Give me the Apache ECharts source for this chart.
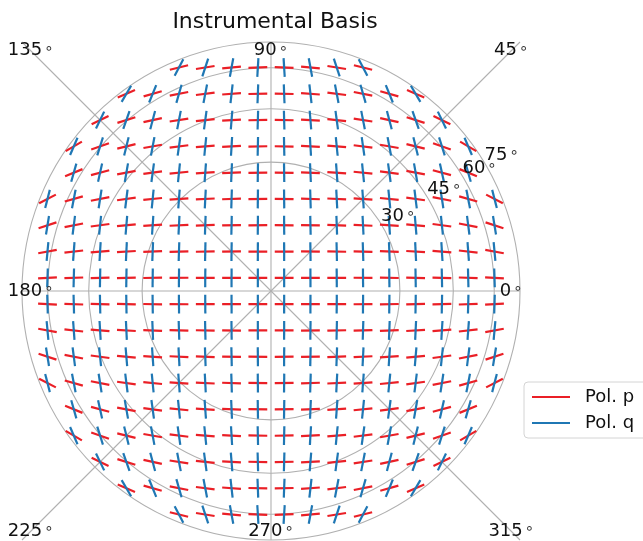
<!DOCTYPE html>
<html>
<head>
<meta charset="utf-8">
<script src="https://cdn.jsdelivr.net/npm/echarts/dist/echarts.min.js"></script>
<style>
html,body{margin:0;padding:0;background:#fff;}
#chart{width:643px;height:541px;}
</style>
</head>
<body>
<div id="chart"></div>
<script>
// ---------------- data ----------------
const titleText = 'Instrumental Basis';
const seriesNames = ['Pol. p', 'Pol. q'];
// |l| and |m| (direction cosines) of the grid columns / rows, from the centre outward
const colPos = [0.051, 0.153, 0.255, 0.357, 0.459, 0.561, 0.663, 0.765, 0.867];
const rowPos = [0.051, 0.153, 0.255, 0.357, 0.459, 0.561, 0.663, 0.765, 0.867];
// tilt (deg) of the Pol. p bar from horizontal, quadrant table [row][col]
const pTilt = [
  [0.1, 0.2, 0.4, 0.6, 0.8, 1.1, 1.5, 2.1, 3.4],
  [0.2, 0.7, 1.2, 1.7, 2.4, 3.3, 4.5, 6.4, 10.4],
  [0.4, 1.2, 2.0, 2.9, 4.1, 5.6, 7.6, 11.0, 18.1],
  [0.5, 1.7, 2.8, 4.2, 5.8, 8.0, 11.0, 16.0, 27.4],
  [0.7, 2.2, 3.8, 5.6, 7.7, 10.6, 14.8, 22.1],
  [0.9, 2.7, 4.8, 7.1, 9.9, 13.7, 19.4, 30.4],
  [1.1, 3.4, 5.9, 8.8, 12.4, 17.5, 25.8],
  [1.4, 4.2, 7.3, 11.0, 15.8, 23.2],
  [1.7, 5.2, 9.2, 14.2]
];
// tilt (deg) of the Pol. q bar from vertical, quadrant table [row][col]
const qTilt = [
  [0.1, 0.2, 0.4, 0.5, 0.7, 0.9, 1.1, 1.4, 1.7],
  [0.2, 0.7, 1.2, 1.7, 2.2, 2.7, 3.4, 4.2, 5.2],
  [0.4, 1.2, 2.0, 2.8, 3.8, 4.8, 5.9, 7.3, 9.2],
  [0.6, 1.7, 2.9, 4.2, 5.6, 7.1, 8.8, 11.0, 14.2],
  [0.8, 2.4, 4.1, 5.8, 7.7, 9.9, 12.4, 15.8],
  [1.1, 3.3, 5.6, 8.0, 10.6, 13.7, 17.5, 23.2],
  [1.5, 4.5, 7.6, 11.0, 14.8, 19.4, 25.8],
  [2.1, 6.4, 11.0, 16.0, 22.1, 30.4],
  [3.4, 10.4, 18.1, 27.4]
];
const ringDeg = [30, 45, 60, 75];          // zenith-angle circles
const spokeDeg = [0, 45, 90, 135];         // azimuth grid lines
const thetaLabels = ['0', '45', '90', '135', '180', '225', '270', '315'];
const thetaLabelDeg = [0, 45, 90, 135, 180, 225, 270, 315];
const rLabels = ['30', '45', '60', '75'];

// ---------------- style ----------------
const FONT = "'DejaVu Sans', sans-serif";
const RED = '#ea1f26';
const BLUE = '#1f77b4';
const GRID = '#b0b0b0';
const D2R = Math.PI / 180;
const LIM = Math.sin(75 * D2R);

// ---------------- build crosses ----------------
const pData = [], qData = [];
[1, -1].forEach(function (sy) {
  pTilt.forEach(function (row, j) {
    [1, -1].forEach(function (sx) {
      row.forEach(function (t, i) {
        const s = sx * sy;
        pData.push([sx * colPos[i], sy * rowPos[j], -s * t]);
        qData.push([sx * colPos[i], sy * rowPos[j], s * qTilt[j][i]]);
      });
    });
  });
});

const HALF = 9.4;
function renderP(params, api) {
  const c = api.coord([api.value(0), api.value(1)]);
  const a = api.value(2) * D2R;
  const dx = HALF * Math.cos(a), dy = -HALF * Math.sin(a);
  return {type: 'line', shape: {x1: c[0] - dx, y1: c[1] - dy, x2: c[0] + dx, y2: c[1] + dy},
          style: {stroke: RED, lineWidth: 2.2}};
}
function renderQ(params, api) {
  const c = api.coord([api.value(0), api.value(1)]);
  const a = api.value(2) * D2R;
  const dx = -HALF * Math.sin(a), dy = -HALF * Math.cos(a);
  return {type: 'line', shape: {x1: c[0] - dx, y1: c[1] - dy, x2: c[0] + dx, y2: c[1] + dy},
          style: {stroke: BLUE, lineWidth: 2.2}};
}
function renderRing(params, api) {
  const c = api.coord([0, 0]);
  const r = api.size([Math.sin(api.value(2) * D2R), 0])[0];
  return {type: 'circle', shape: {cx: c[0], cy: c[1], r: r},
          style: {fill: 'none', stroke: GRID, lineWidth: 1.1}};
}
function renderSpoke(params, api) {
  const a = api.value(2) * D2R;
  const k = LIM / Math.max(Math.abs(Math.cos(a)), Math.abs(Math.sin(a)));
  const p1 = api.coord([k * Math.cos(a), k * Math.sin(a)]);
  const p2 = api.coord([-k * Math.cos(a), -k * Math.sin(a)]);
  return {type: 'line', shape: {x1: p1[0], y1: p1[1], x2: p2[0], y2: p2[1]},
          style: {stroke: GRID, lineWidth: 1.1}};
}
const richDeg = {
  n: {fontSize: 18, fontFamily: FONT, fill: '#111'},
  d: {fontSize: 15, fontFamily: FONT, fill: '#333', verticalAlign: 'top', padding: [0, 0, 4, 2]}
};
function renderText(params, api) {
  const c = api.coord([api.value(0), api.value(1)]);
  return {type: 'text', x: c[0], y: c[1],
          style: {text: '{n|' + api.value(2) + '}{d|∘}', rich: richDeg, align: 'center', verticalAlign: 'middle'}};
}
const thetaData = thetaLabels.map(function (t, i) {
  const a = thetaLabelDeg[i] * D2R;
  const k = 0.932 / Math.max(Math.abs(Math.cos(a)), Math.abs(Math.sin(a)));
  return [k * Math.cos(a), k * Math.sin(a), t];
});
const rLabelData = rLabels.map(function (t, i) {
  const r = Math.sin(ringDeg[i] * D2R) + 0.073;
  const a = 30.5 * D2R;
  return [r * Math.cos(a), r * Math.sin(a), t];
});

const chart = echarts.init(document.getElementById('chart'), null, {renderer: 'canvas'});
chart.setOption({
  animation: false,
  backgroundColor: '#fff',
  title: {text: titleText, left: 270, top: 6, textAlign: 'center',
          textStyle: {fontFamily: FONT, fontSize: 22, fontWeight: 'normal', color: '#111'}},
  legend: {
    data: seriesNames, orient: 'vertical', left: 524, top: 382,
    icon: 'rect', itemWidth: 38, itemHeight: 2, itemGap: 8,
    padding: [6, 24, 6, 8], borderColor: '#d4d4d4', borderWidth: 1, borderRadius: 4,
    textStyle: {fontFamily: FONT, fontSize: 18, color: '#111', padding: [0, 0, 0, 10]}
  },
  grid: {left: 22, top: 42, width: 498, height: 498},
  xAxis: {type: 'value', min: -LIM, max: LIM, show: false},
  yAxis: {type: 'value', min: -LIM, max: LIM, show: false},
  series: [
    {type: 'custom', renderItem: renderRing, data: ringDeg.map(function (d) { return [0, 0, d]; }), z: 1, silent: true},
    {type: 'custom', renderItem: renderSpoke, data: spokeDeg.map(function (d) { return [0, 0, d]; }), z: 1, silent: true},
    {name: seriesNames[0], type: 'custom', renderItem: renderP, data: pData, itemStyle: {color: RED}, z: 2},
    {name: seriesNames[1], type: 'custom', renderItem: renderQ, data: qData, itemStyle: {color: BLUE}, z: 3},
    {type: 'custom', renderItem: renderText, data: thetaData, z: 5, silent: true,
     dimensions: ['x', 'y', {name: 't', type: 'ordinal'}]},
    {type: 'custom', renderItem: renderText, data: rLabelData, z: 5, silent: true,
     dimensions: ['x', 'y', {name: 't', type: 'ordinal'}]}
  ]
});
</script>
</body>
</html>
